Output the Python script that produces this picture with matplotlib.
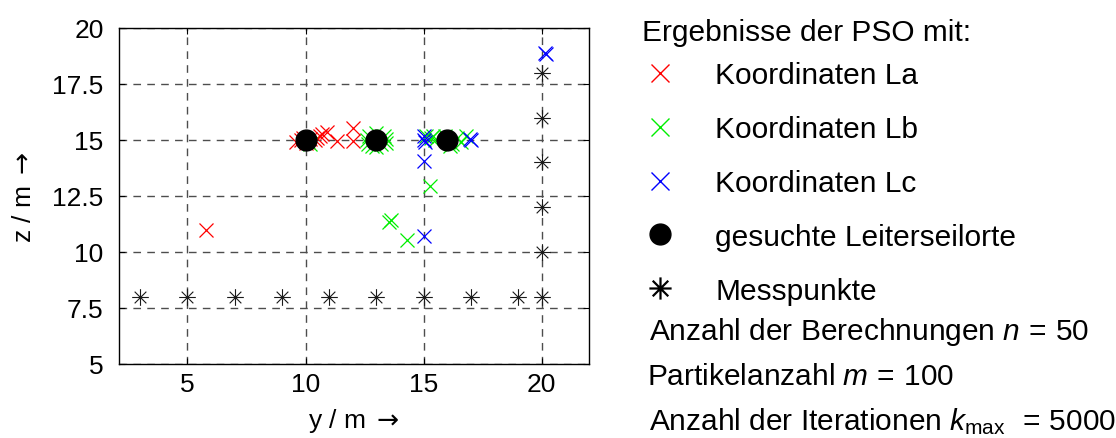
import matplotlib
matplotlib.use("Agg")
import matplotlib.pyplot as plt
from matplotlib.lines import Line2D
from matplotlib.path import Path

plt.rcParams['font.family'] = ['Liberation Sans', 'DejaVu Sans']
plt.rcParams['mathtext.fontset'] = 'custom'
plt.rcParams['mathtext.rm'] = 'Liberation Sans'
plt.rcParams['mathtext.it'] = 'Liberation Sans:italic'
plt.rcParams['mathtext.sf'] = 'DejaVu Sans'

# ---------------- data ----------------
# measurement points (Messpunkte)
mess_y = [3, 5, 7, 9, 11, 13, 15, 17, 19, 20, 20, 20, 20, 20, 20]
mess_z = [8, 8, 8, 8, 8, 8, 8, 8, 8, 8, 10, 12, 14, 16, 18]

# searched conductor positions (gesuchte Leiterseilorte)
ref_y = [10, 13, 16]
ref_z = [15, 15, 15]

# PSO results, conductor La
la_y = [10.0, 9.6, 9.8, 10.0, 10.2, 10.4, 10.5, 10.6, 10.7, 10.9, 11.35, 12.0, 12.0, 5.8, 10.1, 9.9]
la_z = [15.0, 14.9, 15.0, 14.85, 15.05, 15.0, 15.1, 15.2, 15.25, 15.35, 14.95, 15.55, 14.95, 11.0, 14.9, 15.1]

# PSO results, conductor Lb
lb_y = [13.0, 12.65, 12.7, 12.8, 13.2, 13.3, 13.4, 12.6, 13.4, 13.0, 13.0, 10.2,
        15.1, 15.3, 15.5, 15.4, 15.9, 16.2, 16.4, 16.6, 16.8, 16.1,
        15.25, 13.55, 13.6, 14.3]
lb_z = [15.0, 14.8, 15.2, 14.75, 14.8, 15.2, 14.85, 15.0, 15.05, 14.7, 15.3, 14.8,
        15.2, 15.1, 15.0, 15.2, 15.2, 14.8, 15.1, 14.9, 15.2, 14.75,
        12.95, 11.35, 11.45, 10.55]

# PSO results, conductor Lc
lc_y = [15.0, 15.0, 15.05, 15.0, 15.0, 17.0, 16.95, 20.2, 20.15]
lc_z = [15.0, 15.2, 14.9, 14.05, 10.7, 15.0, 15.05, 18.85, 18.9]

x_ticks = [5, 10, 15, 20]
y_ticks = [5, 7.5, 10, 12.5, 15, 17.5, 20]
y_tick_labels = ['5', '7.5', '10', '12.5', '15', '17.5', '20']

legend_title = 'Ergebnisse der PSO mit:'
legend_labels = ['Koordinaten La', 'Koordinaten Lb', 'Koordinaten Lc',
                 'gesuchte Leiterseilorte', 'Messpunkte']
info_lines = [r'Anzahl der Berechnungen $n\,=\,50$',
              r'Partikelanzahl $m\,=\,100$',
              r'Anzahl der Iterationen $k_{\mathrm{max}}\ \,=\,5000$']

# asterisk marker in MATLAB style: plus plus a smaller diagonal cross
_d = 0.7
ast = Path([(-1, 0), (1, 0), (0, -1), (0, 1),
            (-_d, -_d), (_d, _d), (-_d, _d), (_d, -_d)],
           [Path.MOVETO, Path.LINETO] * 4)

# ---------------- figure ----------------
W, H = 1116, 439
fig = plt.figure(figsize=(W / 100, H / 100), dpi=100)
ax = fig.add_axes([119 / W, 1 - 365 / H, (589 - 119) / W, (365 - 29) / H])

ax.set_xlim(2.1, 22.0)
ax.set_ylim(5, 20)
ax.set_xticks(x_ticks)
ax.set_yticks(y_ticks)
ax.set_yticklabels(y_tick_labels)
ax.tick_params(direction='in', length=4, width=0.8, labelsize=19,
               top=True, right=True)
ax.tick_params(axis='y', pad=11)
ax.tick_params(axis='x', pad=6)
ax.grid(True, linestyle=(0, (5.5, 4.5)), color='0.3', linewidth=1.0)
for s in ax.spines.values():
    s.set_linewidth(1.0)
    s.set_color('black')

ax.plot(mess_y, mess_z, linestyle='none', marker=ast, markersize=12,
        markeredgewidth=0.8, color='0.1', zorder=3)
ax.plot(la_y, la_z, linestyle='none', marker='x', markersize=9.5,
        markeredgewidth=0.9, color='#ff0000', zorder=4)
ax.plot(lb_y, lb_z, linestyle='none', marker='x', markersize=10.5,
        markeredgewidth=0.9, color='#00ee00', zorder=5)
ax.plot(lc_y, lc_z, linestyle='none', marker='x', markersize=10.5,
        markeredgewidth=0.9, color='#0000ff', zorder=6)
ax.plot(ref_y, ref_z, linestyle='none', marker='o', markersize=15,
        color='black', zorder=7)

ax.set_xlabel(r'y / m $\mathsf{\rightarrow}$', fontsize=19, labelpad=7)
ax.set_ylabel(r'z / m $\mathsf{\rightarrow}$', fontsize=19, labelpad=12)

handles = [
    Line2D([], [], ls='none', marker='x', ms=13, mew=1.0, color='#ff0000'),
    Line2D([], [], ls='none', marker='x', ms=13, mew=1.0, color='#00ee00'),
    Line2D([], [], ls='none', marker='x', ms=13, mew=1.0, color='#0000ff'),
    Line2D([], [], ls='none', marker='o', ms=15, color='black'),
    Line2D([], [], ls='none', marker=ast, ms=16, mew=1.6, color='black'),
]
fig.text(642 / W, 1 - 33 / H, legend_title, fontsize=21.5, va='center', ha='left')
leg = fig.legend(handles, legend_labels,
                 loc='upper left', bbox_to_anchor=(642 / W, 1 - 62 / H),
                 frameon=False, fontsize=21.5,
                 handlelength=1.2, handletextpad=1.25, labelspacing=0.87,
                 borderpad=0, borderaxespad=0)

ys = [332, 377, 422]
xs = [649, 647, 649]
for t, x, y in zip(info_lines, xs, ys):
    fig.text(x / W, 1 - y / H, t, fontsize=21.5, va='center', ha='left')

fig.savefig('out.png', dpi=100)
